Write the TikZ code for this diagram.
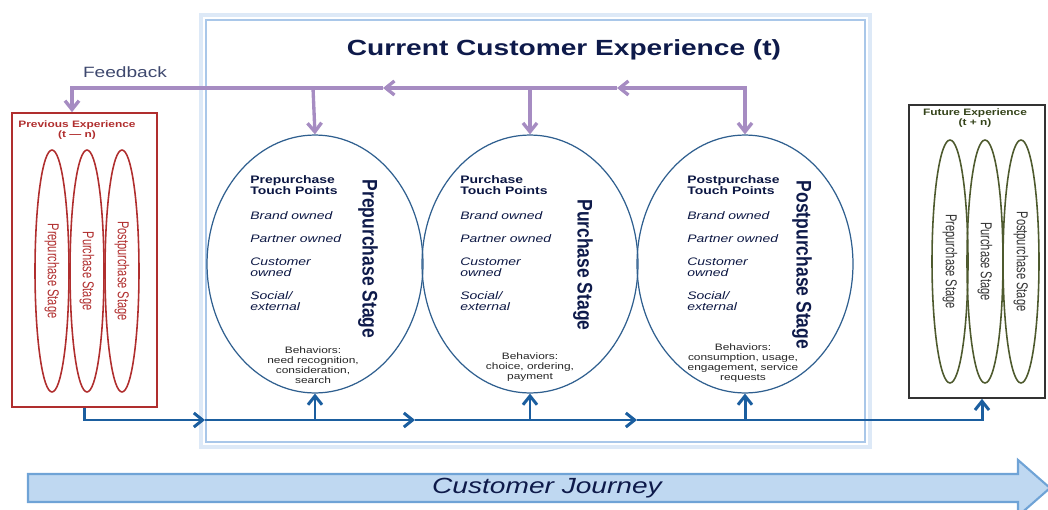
\documentclass[tikz,border=0pt]{standalone}
\usepackage{fontspec}
\setmainfont{Liberation Sans}
\newfontfamily\widefont[FakeStretch=1.28]{Liberation Sans}
\newfontfamily\narrowfont[FakeStretch=0.83]{Liberation Sans}
\newfontfamily\slimfont[FakeStretch=0.7]{Liberation Sans}
\usetikzlibrary{arrows.meta, shapes.geometric, calc}

\definecolor{navy}{HTML}{0E1A4A}
\definecolor{fbpurple}{HTML}{A68CC2}
\definecolor{jblue}{HTML}{1B5E9F}
\definecolor{ellline}{HTML}{2F5F8F}
\definecolor{prevred}{HTML}{B02E2E}
\definecolor{futgreen}{HTML}{4E5A2E}
\definecolor{futtext}{HTML}{34431A}
\definecolor{curglow}{HTML}{DDE9F7}
\definecolor{curline}{HTML}{A9C7E9}
\definecolor{jfill}{HTML}{BFD8F1}
\definecolor{jdraw}{HTML}{6FA3D6}

\newcommand{\touchpoints}[1]{\textbf{#1}\\\textbf{Touch Points}\\[7.8pt]\textit{Brand owned}\\[6.8pt]\textit{Partner owned}\\[7.2pt]\textit{Customer}\\\textit{owned}\\[6.8pt]\textit{Social/}\\\textit{external}}

\tikzset{
  stage/.style={ellipse, draw=ellline, line width=0.7pt, minimum width=4.32cm, minimum height=5.16cm, inner sep=0pt},
  ministage/.style={ellipse, line width=0.9pt, rotate=-90, minimum width=4.84cm, minimum height=0.68cm, inner sep=0pt, font=\slimfont\fontsize{9}{9}\selectfont},
  stagelabel/.style={rotate=-90, inner sep=0pt, text=navy, font=\narrowfont\bfseries\fontsize{12}{12}\selectfont},
  touch/.style={anchor=north west, align=left, inner sep=0pt, text=navy!90!black, font=\widefont\fontsize{6.2}{6.3}\selectfont},
  behav/.style={align=center, inner sep=0pt, text=black!85, font=\widefont\fontsize{5.3}{5.7}\selectfont},
  boxtitle/.style={align=center, inner sep=0pt, font=\widefont\bfseries\fontsize{5.3}{5.7}\selectfont},
  fb/.style={draw=fbpurple, line width=1.9pt},
  jr/.style={draw=jblue, line width=1.7pt},
}

\begin{document}
\begin{tikzpicture}[x=0.02cm, y=-0.02cm, >={Straight Barb[length=5pt, width=8pt]}]
\useasboundingbox (0,0) rectangle (1048,510);

% current experience frame
\node (cur) [draw=curline, line width=1.2pt, minimum width=13.18cm, minimum height=8.44cm] at (535.5,231) {};
\draw[curglow, line width=2.5pt] ($(cur.north west)+(-4,-4)$) rectangle ($(cur.south east)+(4,4)$);
\node (title) at (564,50) [text=navy, font=\widefont\bfseries\fontsize{12.5}{13}\selectfont] {Current Customer Experience (t)};

% stages
\node (pre) [stage] at (315,264) {};
\node (pur) [stage] at (530,264) {};
\node (post) [stage] at (745,264) {};

\node (pretouch) [touch] at (250,175) {\touchpoints{Prepurchase}};
\node (purtouch) [touch] at (460,175) {\touchpoints{Purchase}};
\node (posttouch) [touch] at (687,175) {\touchpoints{Postpurchase}};

\node (prelabel) [stagelabel] at (368,259) {Prepurchase Stage};
\node (purlabel) [stagelabel] at (583,265) {Purchase Stage};
\node (postlabel) [stagelabel] at (802,265) {Postpurchase Stage};

\node (prebehav) [behav] at (313,365.5) {Behaviors:\\need recognition,\\consideration,\\search};
\node (purbehav) [behav] at (530,367.5) {Behaviors:\\choice, ordering,\\payment};
\node (postbehav) [behav] at (743,363.5) {Behaviors:\\consumption, usage,\\engagement, service\\requests};

% previous experience
\node (prev) [draw=prevred, line width=1pt, minimum width=2.9cm, minimum height=5.88cm] at (84.5,260) {};
\node (prevtitle) [boxtitle, text=prevred] at (77,130) {Previous Experience\\(t — n)};
\node (prevpre) [ministage, draw=prevred, text=prevred] at (52,271) {Prepurchase Stage};
\node (prevpur) [ministage, draw=prevred, text=prevred] at (87,271) {Purchase Stage};
\node (prevpost) [ministage, draw=prevred, text=prevred] at (122,271) {Postpurchase Stage};

% future experience
\node (fut) [draw=black!80, line width=1pt, minimum width=2.72cm, minimum height=5.86cm] at (977,251.5) {};
\node (futtitle) [boxtitle, text=futtext] at (975,118.5) {Future Experience\\(t + n)};
\node (futpre) [ministage, draw=futgreen, text=black!80, minimum width=4.86cm, minimum height=0.72cm] at (950,261.5) {Prepurchase Stage};
\node (futpur) [ministage, draw=futgreen, text=black!80, minimum width=4.86cm, minimum height=0.72cm] at (985,261.5) {Purchase Stage};
\node (futpost) [ministage, draw=futgreen, text=black!80, minimum width=4.86cm, minimum height=0.72cm] at (1021,261.5) {Postpurchase Stage};

% feedback loop
\coordinate (fb1) at (313,88);
\coordinate (fb2) at (530,88);
\coordinate (fb3) at (745,88);
\coordinate (fbA) at (617,88);
\coordinate (fbB) at (383,88);
\coordinate (fbL) at (72,88);
\node (feedback) at (125,72) [text=navy!80, font=\widefont\fontsize{8.5}{9}\selectfont] {Feedback};
\draw[fb, <->] (fbA) -- (fb3) -- (post.north);
\draw[fb, ->] (fbA) -- (fbB);
\draw[fb, ->] (fbB) -- (fbL) -- (fbL |- prev.north);
\draw[fb, ->] (fb1) -- (pre.north);
\draw[fb, ->] (fb2) -- (pur.north);

% journey line
\coordinate (jA) at (205,420);
\coordinate (jB) at (415,420);
\coordinate (jC) at (637,420);
\coordinate (jR) at (982,420);
\draw[jr, ->] (prev.south) |- (jA);
\draw[jr, ->] (jA) -- (jB);
\draw[jr, ->] (jB) -- (jC);
\draw[jr, ->] (jC) -- (jR) -- (jR |- fut.south);
\draw[jr, ->] (pre.south |- jA) -- (pre.south);
\draw[jr, ->] (pur.south |- jA) -- (pur.south);
\draw[jr, ->] (post.south |- jA) -- (post.south);

% customer journey arrow
\draw[fill=jfill, draw=jdraw, line width=1.2pt] (28,474) -- (1018,474) -- (1018,460) -- (1050,488) -- (1018,516) -- (1018,502) -- (28,502) -- cycle;
\node (journey) at (547,488) [text=navy, font=\widefont\itshape\fontsize{12.5}{13}\selectfont] {Customer Journey};
\end{tikzpicture}
\end{document}
